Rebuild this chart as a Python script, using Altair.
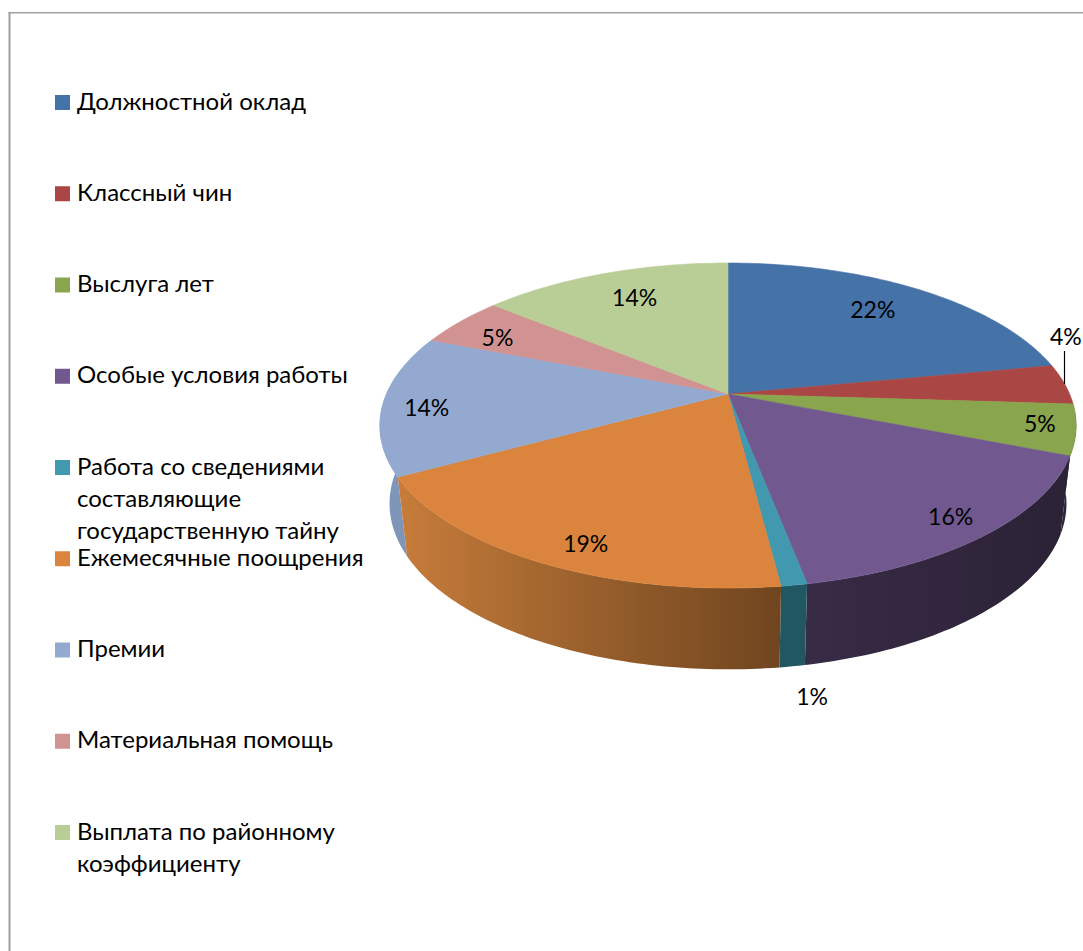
import math
import altair as alt

# Pay structure: share of each component, percent
categories = [
    "Должностной оклад",
    "Классный чин",
    "Выслуга лет",
    "Особые условия работы",
    "Работа со сведениями|составляющие|государственную тайну",
    "Ежемесячные поощрения",
    "Премии",
    "Материальная помощь",
    "Выплата по районному|коэффициенту",
]
shares = [22, 4, 5, 16, 1, 19, 14, 5, 14]
colors = ["#4572a7", "#aa4643", "#89a54e", "#71588f", "#4198af",
          "#db843d", "#93a9cf", "#d19392", "#b9cd96"]

FONT = "Lato"
W, H = 1083, 951
APEX = (728, 394)

# Perspective disc: unit circle projected on screen, rim of the base below it
HALF_W, HALF_H, TILT = 341.6, 156.4, 0.194
BASE_SX, BASE_SY, BASE_DY = 0.972, 1.02, 77.4


def disc_point(frac, r=1.0):
    a = 2 * math.pi * frac
    u, v = r * math.sin(a), -r * math.cos(a)
    d = 1 - TILT * v
    return HALF_W * u / d, HALF_H * v / d


def base_point(frac):
    x, y = disc_point(frac)
    return x * BASE_SX, y * BASE_SY + BASE_DY


def arc(points_at, f0, f1):
    n = max(4, int((f1 - f0) * 360))
    return [list(points_at(f0 + (f1 - f0) * i / n)) for i in range(n + 1)]


def feature(ring, cat):
    return {"type": "Feature", "properties": {"cat": cat},
            "geometry": {"type": "Polygon", "coordinates": [ring + [ring[0]]]}}


edges = [0]
for s in shares:
    edges.append(edges[-1] + s / 100)

projection = alt.Projection(type="identity", scale=1, translate=list(APEX))
color_scale = alt.Scale(domain=categories, range=colors)

# Top of the pie
top_faces = [
    feature([[0, 0]] + arc(disc_point, edges[i], edges[i + 1]), categories[i])
    for i in range(len(shares))
]
top = alt.Chart(alt.InlineData(values=top_faces)).mark_geoshape(strokeWidth=0.6).encode(
    color=alt.Color("properties.cat:N", scale=color_scale, legend=None),
    stroke=alt.Stroke("properties.cat:N", scale=color_scale, legend=None),
)


def wall(i, f0, f1, stops):
    ring = arc(disc_point, f0, f1) + arc(base_point, f0, f1)[::-1]
    grad = alt.Gradient(
        gradient="linear", x1=0, x2=1, y1=0, y2=0,
        stops=[alt.GradientStop(offset=o, color=c) for o, c in stops],
    )
    return alt.Chart(alt.InlineData(values=[feature(ring, categories[i])])).mark_geoshape(
        fill=grad, stroke=None
    )


walls = [
    wall(6, edges[6], edges[7], [(0, "#7f97ba"), (1, "#7c92b2")]),
    wall(2, edges[2], edges[3], [(0, "#2e2539"), (1, "#2e2539")]),
    wall(3, edges[3], edges[4], [(0, "#382b46"), (1, "#2b2236")]),
    wall(4, edges[4], edges[5], [(0, "#215763"), (1, "#215763")]),
    wall(5, edges[5], edges[6], [(0, "#c77c3a"), (0.5, "#99602c"), (1, "#6f451f")]),
]

# Percent labels, placed along each slice's mid-angle
label_radius = [0.75, 1.0, 0.9, 0.88, 1.0, 0.9, 0.88, 0.85, 0.75]
label_nudge = [(-2, -2), (1, -46), (0, -1), (2, 2), (18, 113), (23, 2), (2, 6), (0, 7), (3, -1)]
label_rows = []
for i, s in enumerate(shares):
    x, y = disc_point((edges[i] + edges[i + 1]) / 2, label_radius[i])
    label_rows.append({
        "px": APEX[0] + x + label_nudge[i][0],
        "py": APEX[1] + y + label_nudge[i][1],
        "text": f"{s}%",
    })

x_px = alt.X("px:Q", scale=alt.Scale(domain=[0, W], range=[0, W]), axis=None)
y_px = alt.Y("py:Q", scale=alt.Scale(domain=[0, H], range=[0, H]), axis=None)

labels = alt.Chart(alt.Data(values=label_rows)).mark_text(
    font=FONT, fontSize=23, color="#000000"
).encode(x=x_px, y=y_px, text="text:N")

leader = alt.Chart(alt.Data(values=[{"px": 1064.5, "py": 351, "py2": 384}])).mark_rule(
    color="#000000", strokeWidth=1.2
).encode(x=x_px, y=y_px, y2="py2:Q")

# Frame of the chart area: left and top edges
frame_v = alt.Chart(alt.Data(values=[{"px": 9.5, "py": 12, "py2": H}])).mark_rule(
    color="#a0a0a0", strokeWidth=2
).encode(x=x_px, y=y_px, y2="py2:Q")
frame_h = alt.Chart(alt.Data(values=[{"px": 8.5, "px2": W, "py": 12.7}])).mark_rule(
    color="#a0a0a0", strokeWidth=1.4
).encode(x=x_px, x2="px2:Q", y=y_px)

# Legend column: one row per pay component
legend_rows = [{"row": i, "cat": c} for i, c in enumerate(categories)]
y_row = alt.Y(
    "row:Q", scale=alt.Scale(domain=[0, len(categories) - 1], range=[102.5, 832.5]), axis=None
)
legend_marks = alt.Chart(alt.Data(values=legend_rows)).mark_square(
    size=225, opacity=1, filled=True
).encode(
    x=alt.value(62.5), y=y_row,
    color=alt.Color("cat:N", scale=color_scale, legend=None),
)
legend_text = alt.Chart(alt.Data(values=legend_rows)).mark_text(
    font=FONT, fontSize=24, align="left", baseline="top", lineBreak="|", lineHeight=32, dy=-12,
    color="#000000",
).encode(x=alt.value(77), y=y_row, text="cat:N")

chart = alt.layer(
    *walls, top, frame_v, frame_h, leader, labels, legend_marks, legend_text,
).resolve_scale(y="independent").properties(
    width=W, height=H, padding=0, autosize=alt.AutoSizeParams(type="none"),
    background="#ffffff", projection=projection,
).configure_view(stroke=None)

chart.save("out.html", embed_options={"renderer": "svg", "actions": False})
